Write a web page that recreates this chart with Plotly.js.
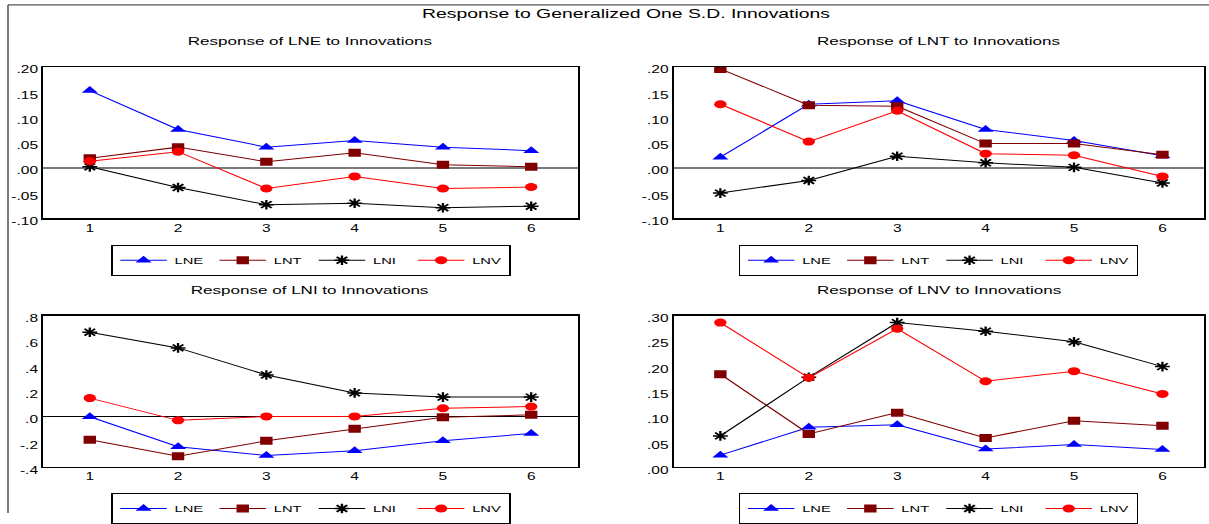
<!DOCTYPE html>
<html>
<head>
<meta charset="utf-8">
<script src="https://cdn.plot.ly/plotly-3.0.1.min.js"></script>
<style>
html,body{margin:0;padding:0;overflow:hidden;background:#fff;width:1209px;height:524px}
#wrap{width:1209px;height:524px;overflow:hidden;position:relative}
#chart{width:780px;height:524px;transform-origin:0 0;position:absolute;left:0;top:0}
</style>
</head>
<body>
<div id="wrap"><div id="chart"></div></div>
<script>
// ---- data ----
const periods = [1, 2, 3, 4, 5, 6];
const seriesNames = ['LNE', 'LNT', 'LNI', 'LNV'];

// Response of LNE
const lne_LNE = [0.153, 0.076, 0.041, 0.054, 0.041, 0.034];
const lne_LNT = [0.019, 0.041, 0.012, 0.030, 0.006, 0.002];
const lne_LNI = [0.002, -0.039, -0.073, -0.070, -0.079, -0.076];
const lne_LNV = [0.013, 0.032, -0.041, -0.017, -0.041, -0.038];

// Response of LNT
const lnt_LNE = [0.021, 0.126, 0.133, 0.076, 0.054, 0.024];
const lnt_LNT = [0.196, 0.124, 0.122, 0.048, 0.048, 0.026];
const lnt_LNI = [-0.050, -0.025, 0.023, 0.010, 0.001, -0.030];
const lnt_LNV = [0.126, 0.052, 0.113, 0.028, 0.025, -0.017];

// Response of LNI
const lni_LNE = [0.000, -0.238, -0.307, -0.269, -0.191, -0.132];
const lni_LNT = [-0.183, -0.313, -0.191, -0.096, -0.005, 0.015];
const lni_LNI = [0.668, 0.544, 0.330, 0.188, 0.155, 0.155];
const lni_LNV = [0.147, -0.029, 0.002, 0.002, 0.067, 0.080];

// Response of LNV
const lnv_LNE = [0.024, 0.079, 0.084, 0.036, 0.045, 0.035];
const lnv_LNT = [0.184, 0.066, 0.108, 0.058, 0.092, 0.082];
const lnv_LNI = [0.062, 0.178, 0.286, 0.269, 0.248, 0.199];
const lnv_LNV = [0.286, 0.177, 0.274, 0.170, 0.190, 0.145];

// tick labels
const ticksSmall = [-0.10, -0.05, 0.00, 0.05, 0.10, 0.15, 0.20];
const ticksSmallText = ['-.10', '-.05', '.00', '.05', '.10', '.15', '.20'];
const ticksLNI = [-0.4, -0.2, 0.0, 0.2, 0.4, 0.6, 0.8];
const ticksLNIText = ['-.4', '-.2', '.0', '.2', '.4', '.6', '.8'];
const ticksLNV = [0.00, 0.05, 0.10, 0.15, 0.20, 0.25, 0.30];
const ticksLNVText = ['.00', '.05', '.10', '.15', '.20', '.25', '.30'];

const mainTitle = 'Response to Generalized One S.D. Innovations';
const panelTitles = ['Response of LNE to Innovations', 'Response of LNT to Innovations',
                     'Response of LNI to Innovations', 'Response of LNV to Innovations'];

// ---- styles ----
const FONT = 'Liberation Sans, Arial, sans-serif';
const W = 1209, H = 524, SX = 1.55, PW = 780;
const styles = {
  LNE: {color: '#0000FF', symbol: 'triangle-up', size: 9},
  LNT: {color: '#800000', symbol: 'square', size: 8},
  LNI: {color: '#000000', symbol: 'asterisk-open', size: 8},
  LNV: {color: '#FF0000', symbol: 'circle', size: 8}
};

const panels = [
  {data: [lne_LNE, lne_LNT, lne_LNI, lne_LNV], ax: '', legend: 'legend'},
  {data: [lnt_LNE, lnt_LNT, lnt_LNI, lnt_LNV], ax: '2', legend: 'legend2'},
  {data: [lni_LNE, lni_LNT, lni_LNI, lni_LNV], ax: '3', legend: 'legend3'},
  {data: [lnv_LNE, lnv_LNT, lnv_LNI, lnv_LNV], ax: '4', legend: 'legend4'}
];

const traces = [];
panels.forEach(p => {
  p.data.forEach((vals, i) => {
    const nm = seriesNames[i];
    const st = styles[nm];
    traces.push({
      type: 'scatter', mode: 'lines+markers',
      x: periods, y: vals, name: nm,
      xaxis: 'x' + p.ax, yaxis: 'y' + p.ax, legend: p.legend,
      line: {color: st.color, width: 1},
      marker: {symbol: st.symbol, size: st.size, color: st.color,
               line: {color: st.color, width: nm === 'LNI' ? 1.5 : 0}}
    });
  });
});

// frame geometry in picture pixels
const leftX = [43, 578], rightX = [673.5, 1204];
const topY = [68.3, 223], botY = [322.3, 477.3];
const dx = a => [a[0] / W, a[1] / W];
const dy = a => [1 - a[1] / H, 1 - a[0] / H];

function xax(dom, range, anchor) {
  return {domain: dx(dom), range: range, anchor: anchor, tickvals: periods,
    ticks: '', showgrid: false, zeroline: false, showline: true, mirror: true,
    linecolor: '#000', linewidth: 1.2, tickfont: {family: FONT, size: 10, color: '#000'},
    fixedrange: true};
}
function yax(dom, range, anchor, tv, tt, zc, zw) {
  return {domain: dy(dom), range: range, anchor: anchor, tickvals: tv, ticktext: tt,
    ticks: '', showgrid: false, zeroline: true, zerolinecolor: zc, zerolinewidth: zw,
    showline: true, mirror: true, linecolor: '#000', linewidth: 1.2,
    tickfont: {family: FONT, size: 10, color: '#000'}, ticklabelshift: 3,
    fixedrange: true};
}
function leg(xpx, ypx) {
  return {orientation: 'h', x: xpx / W, y: 1 - ypx / H, xanchor: 'left', yanchor: 'top',
    bordercolor: '#000', borderwidth: 1, bgcolor: 'rgba(255,255,255,0)',
    font: {family: FONT, size: 9.5, color: '#000'},
    entrywidth: 19, entrywidthmode: 'pixels', itemclick: false, itemdoubleclick: false};
}
function ann(text, xpx, ypx) {
  return {text: text, xref: 'paper', yref: 'paper', x: xpx / W, y: 1 - ypx / H,
    xanchor: 'center', yanchor: 'middle', showarrow: false,
    font: {family: FONT, size: 11, color: '#000'}};
}

const layout = {
  width: PW, height: H, autosize: false,
  margin: {l: 0, r: 0, t: 0, b: 0, pad: 0},
  paper_bgcolor: '#fff', plot_bgcolor: '#fff',
  title: {text: mainTitle, x: 626 / W, xanchor: 'center', xref: 'paper',
          y: 1 - 14 / H, yanchor: 'middle', yref: 'paper',
          font: {family: FONT, size: 12.5, color: '#000'}},
  xaxis: xax(leftX, [0.47, 6.53], 'y'),
  yaxis: yax(topY, [-0.10, 0.20], 'x', ticksSmall, ticksSmallText, '#7a7a7a', 2),
  xaxis2: xax(rightX, [0.47, 6.47], 'y2'),
  yaxis2: yax(topY, [-0.10, 0.20], 'x2', ticksSmall, ticksSmallText, '#7a7a7a', 2),
  xaxis3: xax(leftX, [0.47, 6.53], 'y3'),
  yaxis3: yax(botY, [-0.4, 0.8], 'x3', ticksLNI, ticksLNIText, '#000', 1),
  xaxis4: xax(rightX, [0.47, 6.47], 'y4'),
  yaxis4: yax(botY, [0, 0.30], 'x4', ticksLNV, ticksLNVText, '#000', 1),
  legend: leg(111, 250),
  legend2: leg(738.6, 250),
  legend3: leg(111, 504),
  legend4: leg(738.6, 504),
  showlegend: true,
  annotations: [
    ann(panelTitles[0], 310.5, 42),
    ann(panelTitles[1], 939, 42),
    ann(panelTitles[2], 310.5, 296),
    ann(panelTitles[3], 939, 296)
  ],
  shapes: [
    {type: 'line', xref: 'paper', yref: 'paper', x0: 8 / W, x1: 1, y0: 1 - 5 / H, y1: 1 - 5 / H,
     line: {color: '#555', width: 1.2}},
    {type: 'line', xref: 'paper', yref: 'paper', x0: 8 / W, x1: 8 / W, y0: 1 - 5 / H, y1: 0,
     line: {color: '#555', width: 1}}
  ]
};

const gd = document.getElementById('chart');
Plotly.newPlot(gd, traces, layout, {displayModeBar: false, staticPlot: true}).then(() => {
  // the reference picture is stretched horizontally; stretch the finished drawing the same way
  gd.style.transform = 'scaleX(' + SX + ')';
});
</script>
</body>
</html>
